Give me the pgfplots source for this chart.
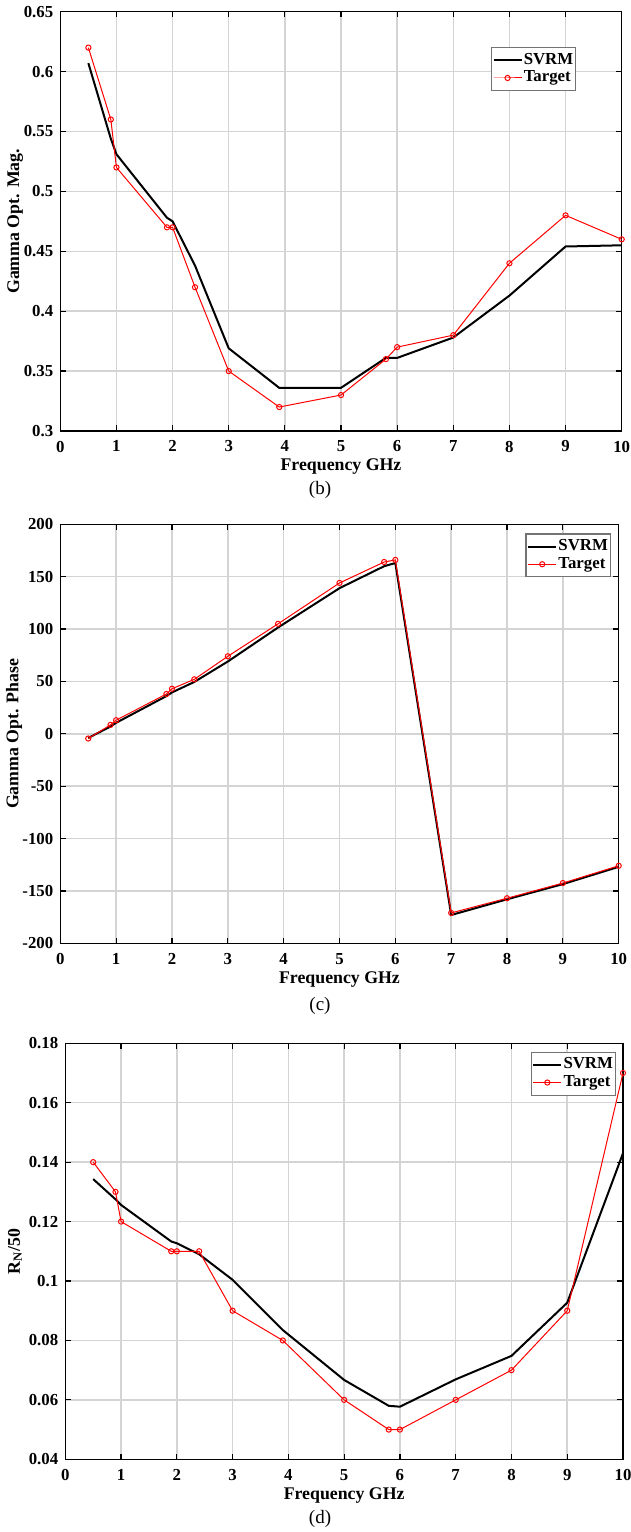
\documentclass[border=0pt]{standalone}
\usepackage{fontspec}
\setmainfont{Liberation Serif}
\usepackage{pgfplots}
\pgfplotsset{compat=1.18}

\pgfplotsset{
  panel/.style={
    scale only axis,
    xmin=0, xmax=10, xtick={0,1,...,10},
    grid=major,
    major grid style={line width=0.75pt, draw=black!17},
    axis line style={line width=0.6pt},
    every tick/.style={black, line width=0.6pt},
    major tick length=2.8pt,
    tick align=inside,
    tick pos=both,
    scaled y ticks=false,
    /pgf/number format/assume math mode=true,
    /pgf/number format/fixed,
    /pgf/number format/precision=2,
    tick label style={font=\fontsize{8.4}{10}\selectfont\bfseries},
    xticklabel style={yshift=-1.4pt},
    label style={font=\fontsize{8.9}{10.5}\selectfont\bfseries},
    xlabel={Frequency GHz},
    xlabel style={at={(axis description cs:0.5,0)}, anchor=center, yshift=-18pt},
    legend cell align=left,
    legend style={draw=black!55, line width=0.6pt,
      font=\fontsize{8.4}{10}\selectfont\bfseries,
      nodes={inner sep=0.6pt},
      inner xsep=0.6pt, inner ysep=2.2pt, row sep=0.6pt, anchor=north east},
    legend image code/.code={\draw[mark repeat=2,mark phase=2,#1]
      plot coordinates {(0pt,0pt) (7pt,0pt) (14pt,0pt)};},
  },
  svrm/.style={black, line width=1pt, no markers},
  target/.style={red, line width=0.5pt, mark=o, mark size=1.3pt,
    mark options={line width=0.5pt}},
}

\begin{document}
\begin{tikzpicture}
\useasboundingbox (0pt,0pt) rectangle (315.5pt,766pt);

% (b) magnitude of the optimum reflection coefficient
\begin{axis}[panel,
  at={(30.15pt,550.5pt)}, anchor=south west,
  width=280.7pt, height=209.65pt,
  ymin=0.3, ymax=0.65,
  ytick={0.3,0.35,0.4,0.45,0.5,0.55,0.6,0.65},
  ylabel={Gamma Opt. Mag.},
  ylabel style={at={(axis description cs:-0.0805,0.5)}, anchor=center},
  legend style={at={(0.919,0.9156)}},
]
\addplot[svrm] coordinates {
  (0.5,0.607) (0.9,0.544) (1,0.531) (1.9,0.478) (2,0.475) (2.4,0.438)
  (3,0.369) (3.9,0.336) (5,0.336) (5.8,0.361) (6,0.361) (7,0.378)
  (8,0.413) (9,0.454) (10,0.455)};
\addlegendentry{SVRM}
\addplot[target] coordinates {
  (0.5,0.62) (0.9,0.56) (1,0.52) (1.9,0.47) (2,0.47) (2.4,0.42)
  (3,0.35) (3.9,0.32) (5,0.33) (5.8,0.36) (6,0.37) (7,0.38)
  (8,0.44) (9,0.48) (10,0.46)};
\addlegendentry{Target}
\end{axis}

% (c) phase of the optimum reflection coefficient
\begin{axis}[panel,
  at={(30.15pt,294.35pt)}, anchor=south west,
  width=279.2pt, height=209.5pt,
  ymin=-200, ymax=200,
  ytick={-200,-150,-100,-50,0,50,100,150,200},
  ylabel={Gamma Opt. Phase},
  ylabel style={at={(axis description cs:-0.0827,0.5)}, anchor=center},
  legend style={at={(0.986,0.9785)}},
]
\addplot[svrm] coordinates {
  (0.5,-4) (0.9,7) (1,10.5) (1.9,36) (2,39.5) (2.4,49.5)
  (3,69) (3.9,101.5) (5,139) (5.8,160) (6,163) (7,-173)
  (8,-158) (9,-143.5) (10,-127)};
\addlegendentry{SVRM}
\addplot[target] coordinates {
  (0.5,-4.5) (0.9,8.5) (1,13) (1.9,38) (2,43) (2.4,52)
  (3,74) (3.9,105) (5,144) (5.8,164) (6,166) (7,-171)
  (8,-157) (9,-142.5) (10,-126)};
\addlegendentry{Target}
\end{axis}

% (d) normalised noise resistance
\begin{axis}[panel,
  at={(32.65pt,36.35pt)}, anchor=south west,
  width=278.85pt, height=208pt,
  ymin=0.04, ymax=0.18,
  ytick={0.04,0.06,0.08,0.1,0.12,0.14,0.16,0.18},
  ylabel={R\textsubscript{N}/50},
  ylabel style={at={(axis description cs:-0.0902,0.5)}, anchor=center},
  legend style={at={(0.9874,0.98)}},
]
\addplot[svrm] coordinates {
  (0.5,0.1343) (0.9,0.1275) (1,0.1256) (1.9,0.1133) (2,0.1127) (2.4,0.109)
  (3,0.1004) (3.9,0.0835) (5,0.0667) (5.8,0.058) (6,0.0577) (7,0.0669)
  (8,0.0748) (9,0.0927) (10,0.143)};
\addlegendentry{SVRM}
\addplot[target] coordinates {
  (0.5,0.14) (0.9,0.13) (1,0.12) (1.9,0.11) (2,0.11) (2.4,0.11)
  (3,0.09) (3.9,0.08) (5,0.06) (5.8,0.05) (6,0.05) (7,0.06)
  (8,0.07) (9,0.09) (10,0.17)};
\addlegendentry{Target}
\end{axis}

\node[font=\fontsize{9.5}{11}\selectfont] at (160pt,520.8pt) {(b)};
\node[font=\fontsize{9.5}{11}\selectfont] at (160pt,263.2pt) {(c)};
\node[font=\fontsize{9.5}{11}\selectfont] at (160pt,6.5pt) {(d)};
\end{tikzpicture}
\end{document}
